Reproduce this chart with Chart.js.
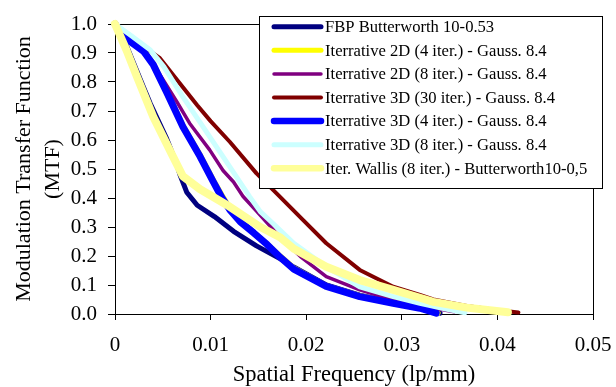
<!DOCTYPE html>
<html>
<head>
<meta charset="utf-8">
<script src="https://cdn.jsdelivr.net/npm/chart.js@4.4.1/dist/chart.umd.min.js"></script>
<style>
  html,body{margin:0;padding:0;background:#fff;}
  #wrap{width:616px;height:387px;}
</style>
</head>
<body>
<div id="wrap"><canvas id="mtf" width="616" height="387"></canvas></div>
<script>
// MTF curves (x = spatial frequency, y = MTF)
const seriesNames = [
  'FBP Butterworth 10-0.53',
  'Iterrative 2D (4 iter.) - Gauss. 8.4',
  'Iterrative 2D (8 iter.) - Gauss. 8.4',
  'Iterrative 3D (30 iter.) - Gauss. 8.4',
  'Iterrative 3D (4 iter.) - Gauss. 8.4',
  'Iterrative 3D (8 iter.) - Gauss. 8.4',
  'Iter. Wallis (8 iter.) - Butterworth10-0,5'
];

const fbpFreq   = [0, 0.0012, 0.003, 0.0037, 0.0054, 0.0063, 0.0068, 0.0075, 0.0086, 0.0104, 0.0124, 0.0148, 0.0173, 0.0187, 0.0221, 0.0256, 0.0291, 0.0319, 0.034];
const fbpMtf    = [1.0, 0.925, 0.78, 0.725, 0.605, 0.53, 0.48, 0.42, 0.375, 0.336, 0.285, 0.235, 0.19, 0.162, 0.10, 0.065, 0.04, 0.02, 0.003];

const it2d4Freq = [0, 0.0009, 0.003, 0.004, 0.0054, 0.0071, 0.0089, 0.0103, 0.0112, 0.012, 0.0131, 0.0145, 0.0159, 0.0173, 0.0187, 0.0221, 0.0256, 0.0291, 0.0319, 0.0338];
const it2d4Mtf  = [1.0, 0.958, 0.908, 0.865, 0.77, 0.652, 0.55, 0.462, 0.41, 0.368, 0.322, 0.283, 0.243, 0.20, 0.16, 0.098, 0.063, 0.039, 0.021, 0.003];

const it2d8Freq = [0, 0.0015, 0.003, 0.0047, 0.0065, 0.0078, 0.0099, 0.0113, 0.0124, 0.0134, 0.0148, 0.0169, 0.0194, 0.0221, 0.0256, 0.0291, 0.0325, 0.0355];
const it2d8Mtf  = [1.0, 0.955, 0.91, 0.825, 0.73, 0.658, 0.566, 0.495, 0.455, 0.405, 0.355, 0.278, 0.198, 0.129, 0.083, 0.048, 0.025, 0.008];

const it3d30Freq = [0, 0.001, 0.003, 0.0047, 0.0065, 0.0086, 0.010, 0.012, 0.0148, 0.0169, 0.0195, 0.0221, 0.0256, 0.0291, 0.0319, 0.0333, 0.0368, 0.0403, 0.0422];
const it3d30Mtf  = [1.0, 0.975, 0.922, 0.882, 0.807, 0.72, 0.665, 0.594, 0.485, 0.416, 0.33, 0.244, 0.152, 0.094, 0.066, 0.05, 0.028, 0.012, 0.005];

const it3d4Freq = [0, 0.0009, 0.003, 0.004, 0.0054, 0.0071, 0.0089, 0.0103, 0.0112, 0.012, 0.0131, 0.0145, 0.0159, 0.0173, 0.0187, 0.0221, 0.0256, 0.0291, 0.0319, 0.0336];
const it3d4Mtf  = [1.0, 0.956, 0.905, 0.86, 0.765, 0.646, 0.543, 0.455, 0.40, 0.36, 0.318, 0.28, 0.24, 0.195, 0.155, 0.095, 0.06, 0.037, 0.02, 0.003];

const it3d8Freq = [0, 0.0016, 0.0037, 0.0051, 0.0071, 0.0092, 0.0113, 0.0141, 0.0152, 0.0169, 0.0187, 0.0221, 0.0256, 0.0291, 0.0319, 0.0345, 0.0366];
const it3d8Mtf  = [1.0, 0.962, 0.91, 0.853, 0.749, 0.646, 0.543, 0.404, 0.353, 0.301, 0.244, 0.163, 0.094, 0.06, 0.037, 0.018, 0.004];

const wallisFreq = [0, 0.0012, 0.0023, 0.004, 0.0058, 0.0071, 0.0089, 0.0117, 0.0141, 0.0152, 0.0173, 0.0187, 0.0221, 0.0256, 0.0291, 0.0319, 0.0333, 0.0368, 0.0411];
const wallisMtf  = [1.0, 0.91, 0.818, 0.68, 0.56, 0.475, 0.43, 0.376, 0.324, 0.30, 0.264, 0.225, 0.163, 0.117, 0.083, 0.056, 0.042, 0.022, 0.006];

const xTicks = [0, 0.01, 0.02, 0.03, 0.04, 0.05];
const yTicks = [0, 0.1, 0.2, 0.3, 0.4, 0.5, 0.6, 0.7, 0.8, 0.9, 1.0];

const freqs = [fbpFreq, it2d4Freq, it2d8Freq, it3d30Freq, it3d4Freq, it3d8Freq, wallisFreq];
const mtfs  = [fbpMtf, it2d4Mtf, it2d8Mtf, it3d30Mtf, it3d4Mtf, it3d8Mtf, wallisMtf];
const colors = ['#000080','#FFFF00','#800080','#800000','#0000FF','#CCFFFF','#FFFF99'];
const widths = [5, 5, 3.5, 4, 7, 5, 8];

const zip = (xs, ys) => xs.map((x,i)=>({x, y:ys[i]}));

Chart.defaults.font.family = '"Liberation Serif", "Times New Roman", serif';
Chart.defaults.color = '#000';

// plot frame (top + right edges), drawn under the curves
const frame = {
  id:'frame',
  beforeDatasetsDraw(chart){
    const {ctx, chartArea:a} = chart;
    ctx.save();
    ctx.strokeStyle = '#000'; ctx.lineWidth = 1;
    ctx.beginPath();
    ctx.moveTo(a.left, a.top + 0.5); ctx.lineTo(a.right + 0.5, a.top + 0.5);
    ctx.lineTo(a.right + 0.5, a.bottom);
    ctx.stroke();
    ctx.restore();
  }
};

// boxed legend sitting over the top-right of the plot
const boxLegend = {
  id:'boxLegend',
  afterDraw(chart){
    const ctx = chart.ctx;
    const bx = 259.5, by = 16.5, bw = 343, bh = 172;
    ctx.save();
    ctx.fillStyle = '#fff';
    ctx.fillRect(bx, by, bw, bh);
    ctx.strokeStyle = '#000'; ctx.lineWidth = 1;
    ctx.strokeRect(bx, by, bw, bh);
    ctx.font = '16.6px "Liberation Serif", "Times New Roman", serif';
    ctx.textBaseline = 'middle';
    ctx.lineCap = 'round';
    chart.data.datasets.forEach((ds, i) => {
      const y = 26.7 + i*23.6;
      ctx.strokeStyle = ds.borderColor;
      ctx.lineWidth = Math.min(ds.borderWidth, 6.5);
      ctx.beginPath(); ctx.moveTo(274, y); ctx.lineTo(321, y); ctx.stroke();
      ctx.fillStyle = '#000';
      ctx.fillText(ds.label, 325, y + 1);
    });
    ctx.restore();
  }
};

const datasets = seriesNames.map((name, i) => ({
  label: name,
  data: zip(freqs[i], mtfs[i]),
  borderColor: colors[i],
  backgroundColor: colors[i],
  borderWidth: widths[i],
  pointRadius: 0,
  tension: 0,
  borderJoinStyle: 'round',
  borderCapStyle: 'round',
  clip: false,
  order: seriesNames.length - i
}));

new Chart(document.getElementById('mtf'), {
  type: 'line',
  data: { datasets },
  plugins: [frame, boxLegend],
  options: {
    responsive: false,
    animation: false,
    events: [],
    layout: { padding: { left: 0, right: 23, top: 24, bottom: 0 } },
    plugins: { legend: { display: false }, tooltip: { enabled: false } },
    scales: {
      x: {
        type: 'linear',
        min: 0, max: 0.05,
        afterFit: s => { s.height = 73; s.paddingLeft = 0; s.paddingRight = 0; },
        afterBuildTicks: s => { s.ticks = xTicks.map(v => ({value: v})); },
        grid: { display: true, drawOnChartArea: false, drawTicks: true, tickLength: 6, color: '#000' },
        border: { display: true, color: '#000', width: 1 },
        ticks: {
          padding: 13,
          maxRotation: 0,
          font: { size: 21 },
          callback: v => v === 0 ? '0' : v.toFixed(2)
        },
        title: {
          display: true,
          text: 'Spatial Frequency (lp/mm)',
          font: { size: 22.5, lineHeight: 1.0 },
          padding: { top: 0, bottom: 1 }
        }
      },
      y: {
        min: 0, max: 1,
        afterFit: s => { s.width = 115; s.paddingTop = 0; s.paddingBottom = 0; },
        afterBuildTicks: s => { s.ticks = yTicks.map(v => ({value: v})); },
        grid: { display: true, drawOnChartArea: false, drawTicks: true, tickLength: 7, color: '#000' },
        border: { display: true, color: '#000', width: 1 },
        ticks: {
          padding: 11,
          font: { size: 21 },
          callback: v => v.toFixed(1)
        },
        title: {
          display: true,
          text: ['Modulation Transfer Function', '(MTF)'],
          font: { size: 22, lineHeight: 1.32 },
          padding: { top: 9.5, bottom: 0 }
        }
      }
    }
  }
});
</script>
</body>
</html>
